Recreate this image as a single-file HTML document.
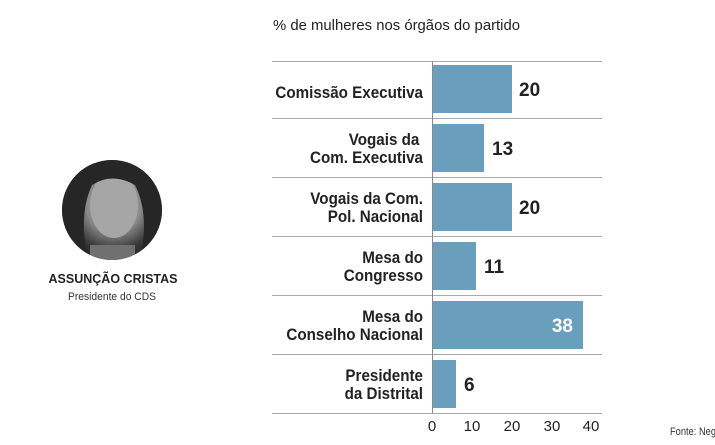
<!DOCTYPE html>
<html><head><meta charset="utf-8"><style>
html,body{margin:0;padding:0;background:#fff;}
svg{display:block;font-family:"Liberation Sans",sans-serif;}
</style></head><body>
<svg width="715" height="445" viewBox="0 0 715 445" xmlns="http://www.w3.org/2000/svg">
<defs>
<radialGradient id="face" cx="0.52" cy="0.45" r="0.6">
<stop offset="0" stop-color="#b8b8b8"/>
<stop offset="0.45" stop-color="#8a8a8a"/>
<stop offset="0.75" stop-color="#3a3a3a"/>
<stop offset="1" stop-color="#1e1e1e"/>
</radialGradient>
<clipPath id="cc"><circle cx="112" cy="210" r="50"/></clipPath>
</defs>
<circle cx="112" cy="210" r="50" fill="url(#face)"/>
<g clip-path="url(#cc)">
<ellipse cx="114" cy="205" rx="24" ry="33" fill="#a6a6a6"/>
<path d="M62 200 Q70 150 112 158 Q155 155 162 200 L162 260 L140 260 Q150 215 135 185 Q112 172 92 185 Q78 215 88 260 L62 260 Z" fill="#262626"/>
<rect x="90" y="245" width="45" height="20" fill="#707070"/>
</g>
<text x="113" y="283" text-anchor="middle" font-size="13" font-weight="bold" fill="#222" textLength="129" lengthAdjust="spacingAndGlyphs">ASSUNÇÃO CRISTAS</text>
<text x="112" y="300" text-anchor="middle" font-size="11" fill="#333" textLength="88" lengthAdjust="spacingAndGlyphs">Presidente do CDS</text>
<text x="273" y="30" font-size="15" fill="#222" textLength="247" lengthAdjust="spacingAndGlyphs">% de mulheres nos órgãos do partido</text>
<g stroke="#aaa" stroke-width="1">
<line x1="272" x2="602" y1="61.5" y2="61.5"/>
<line x1="272" x2="602" y1="118.5" y2="118.5"/>
<line x1="272" x2="602" y1="177.5" y2="177.5"/>
<line x1="272" x2="602" y1="236.5" y2="236.5"/>
<line x1="272" x2="602" y1="295.5" y2="295.5"/>
<line x1="272" x2="602" y1="354.5" y2="354.5"/>
<line x1="272" x2="602" y1="413.5" y2="413.5"/>
</g>
<g fill="#699fbc">
<rect x="432" y="65" width="80" height="48"/>
<rect x="432" y="124" width="52" height="48"/>
<rect x="432" y="183" width="80" height="48"/>
<rect x="432" y="242" width="44" height="48"/>
<rect x="432" y="301" width="151" height="48"/>
<rect x="432" y="360" width="24" height="48"/>
</g>
<line x1="432.5" x2="432.5" y1="61" y2="413" stroke="#888"/>
<g font-size="16.5" font-weight="bold" fill="#222" text-anchor="end" transform="translate(423,0) scale(0.92,1) translate(-423,0)">
<text x="423" y="98">Comissão Executiva</text>
<text x="419" y="145">Vogais da</text>
<text x="423" y="163">Com. Executiva</text>
<text x="423" y="204">Vogais da Com.</text>
<text x="423" y="222">Pol. Nacional</text>
<text x="423" y="263">Mesa do</text>
<text x="423" y="281">Congresso</text>
<text x="423" y="322">Mesa do</text>
<text x="423" y="340">Conselho Nacional</text>
<text x="423" y="381">Presidente</text>
<text x="423" y="399">da Distrital</text>
</g>
<g font-size="19" font-weight="bold" fill="#222">
<text x="519" y="96">20</text>
<text x="492" y="155">13</text>
<text x="519" y="214">20</text>
<text x="484" y="273">11</text>
<text x="573" y="332" fill="#fff" text-anchor="end">38</text>
<text x="464" y="391">6</text>
</g>
<g font-size="15" fill="#222" text-anchor="middle">
<text x="432" y="431">0</text>
<text x="472" y="431">10</text>
<text x="512" y="431">20</text>
<text x="552" y="431">30</text>
<text x="591" y="431">40</text>
</g>
<text x="670" y="435" font-size="11" fill="#333" textLength="46" lengthAdjust="spacingAndGlyphs">Fonte: Neg</text>
</svg>
</body></html>
